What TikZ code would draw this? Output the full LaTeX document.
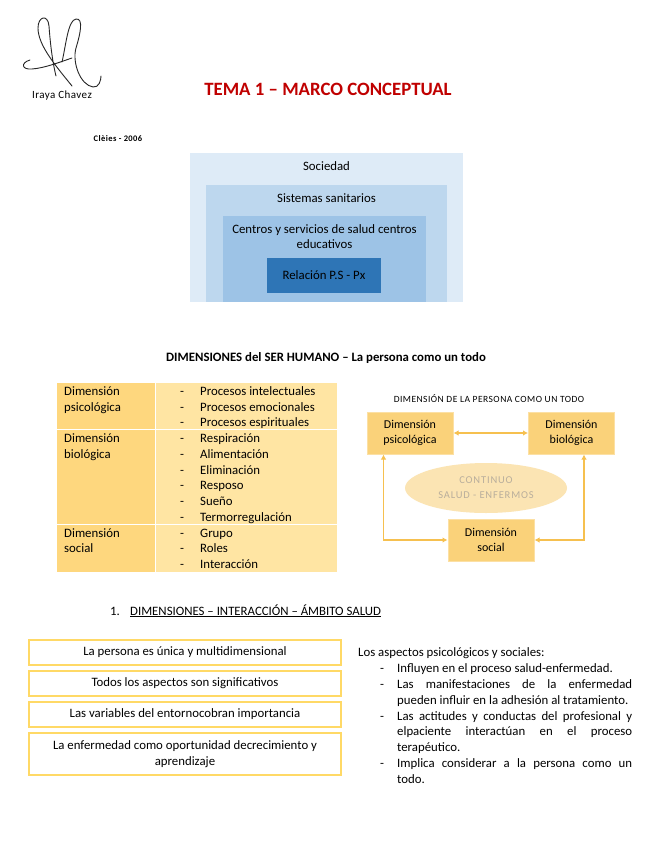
\documentclass[tikz,border=0pt]{standalone}
\usepackage{fontspec}
\setmainfont{Carlito}
\usetikzlibrary{shapes.geometric,arrows.meta}
\definecolor{titred}{HTML}{C00000}
\definecolor{bA}{HTML}{DEEBF7}
\definecolor{bB}{HTML}{BDD7EE}
\definecolor{bC}{HTML}{9DC3E6}
\definecolor{bD}{HTML}{2E75B6}
\definecolor{tL}{HTML}{FED77E}
\definecolor{tR}{HTML}{FFE5A3}
\definecolor{dBox}{HTML}{FAD27A}
\definecolor{dBor}{HTML}{FCE0A4}
\definecolor{dEll}{HTML}{FBE4B3}
\definecolor{dTxt}{HTML}{B9AE9C}
\definecolor{dArr}{HTML}{F6C04F}
\definecolor{lBor}{HTML}{FFD966}
\newcommand\jline[1]{\makebox[235pt][s]{\spaceskip=0.12em plus 1fil\relax #1}}
\tikzset{
  body/.style={font=\fontsize{12.8}{15.6}\selectfont, inner sep=0pt},
  tcell/.style={body, anchor=base west},
  dimbox/.style={draw=dBor, line width=1pt, fill=dBox, minimum width=86pt, minimum height=42pt, align=center, font=\fontsize{12}{15}\selectfont, inner sep=1pt},
  arr/.style={dArr, line width=1.2pt, {Latex[length=5pt,width=5.5pt]}-{Latex[length=5pt,width=5.5pt]}},
  lbox/.style={draw=lBor, line width=1.3pt, fill=white, minimum width=312pt, align=center, body},
  rline/.style={body, anchor=base west},
}
\begin{document}
\begin{tikzpicture}[x=1pt,y=-1pt]
\useasboundingbox[fill=white] (0,0) rectangle (655,848);

% signature
\draw[line width=0.9pt, black!85, line cap=round, line join=round]
  (72,86) .. controls (55,65) and (38,45) .. (38,28)
          .. controls (38,16) and (48,14) .. (49,26)
          .. controls (50,40) and (52,60) .. (56,76);
\draw[line width=0.9pt, black!85, line cap=round]
  (30,60) .. controls (20,63) and (22,70) .. (32,69)
          .. controls (45,68) and (60,62) .. (72,58);
\draw[line width=0.9pt, black!85, line cap=round]
  (62,62) .. controls (66,45) and (68,20) .. (76,19)
          .. controls (84,18) and (80,35) .. (76,48)
          .. controls (72,62) and (80,85) .. (93,87)
          .. controls (99,88) and (101,80) .. (101,76);
\node[font=\fontsize{11}{13}\selectfont\addfontfeatures{LetterSpace=4}, inner sep=0pt] (sig) at (62,96) {Iraya Chavez};

\node[font=\bfseries\fontsize{18.8}{22}\selectfont, text=titred, inner sep=0pt] (title) at (328,89) {TEMA 1 – MARCO CONCEPTUAL};
\node[font=\bfseries\fontsize{8.5}{10}\selectfont\addfontfeatures{LetterSpace=5}, inner sep=0pt] (cl) at (118,139) {Clèies - 2006};

% nested boxes
\fill[bA] (190,153) rectangle (463,302);
\fill[bB] (206,185) rectangle (447,302);
\fill[bC] (223,216) rectangle (426,302);
\node[body, fill=bD, minimum width=114pt, minimum height=35pt] (rel) at (324,275.5) {Relación P.S - Px};
\node[body] (soc) at (326.5,166) {Sociedad};
\node[body] (sis) at (326.5,198) {Sistemas sanitarios};
\node[body, align=center] (cen) at (324.5,236.5) {Centros y servicios de salud centros\\educativos};

\node[body, font=\bfseries\fontsize{12.8}{15.6}\selectfont] (dimh) at (326,358) {DIMENSIONES del SER HUMANO – La persona como un todo};

% table
\fill[tL] (57,383) rectangle (155,572);
\fill[tR] (155,383) rectangle (337,572);
\draw[white, line width=1pt] (57,429) -- (337,429);
\draw[white, line width=1pt] (57,524) -- (337,524);
\draw[white, line width=0.8pt] (155,383) -- (155,572);
\node[tcell] (l1a) at (64,395) {Dimensión};
\node[tcell] (l1b) at (64,411) {psicológica};
\node[tcell] (l2a) at (64,442) {Dimensión};
\node[tcell] (l2b) at (64,458) {biológica};
\node[tcell] (l3a) at (64,537) {Dimensión};
\node[tcell] (l3b) at (64,552) {social};
\foreach \y/\t [count=\i] in {395/Procesos intelectuales,411/Procesos emocionales,426/Procesos espirituales,442/Respiración,458/Alimentación,474/Eliminación,489/Resposo,505/Sueño,521/Termorregulación,537/Grupo,552/Roles,568/Interacción}{
  \node[tcell] (d\i) at (180,\y) {-};
  \node[tcell] (it\i) at (200,\y) {\t};
}

% person diagram
\node[font=\fontsize{9.5}{11}\selectfont\addfontfeatures{LetterSpace=5}, inner sep=0pt] (dpt) at (489,399) {DIMENSIÓN DE LA PERSONA COMO UN TODO};
\node[ellipse, fill=dEll, minimum width=162pt, minimum height=50pt, align=center, text=dTxt, font=\fontsize{10.5}{15}\selectfont\addfontfeatures{LetterSpace=8}] (ell) at (486,488) {CONTINUO\\SALUD - ENFERMOS};
\node[dimbox] (psi) at (410,433) {Dimensión\\psicológica};
\node[dimbox] (bio) at (571.5,433) {Dimensión\\biológica};
\node[dimbox] (sod) at (491,540) {Dimensión\\social};
\draw[arr] (psi.east) -- (bio.west);
\draw[arr] ([xshift=17pt]psi.south west) |- (sod.west);
\draw[arr] ([xshift=-31pt]bio.south east) |- (sod.east);

% section heading
\node[body, anchor=base west] (n1) at (110,615) {1.};
\node[body, anchor=base west] (sh) at (130,615) {\underline{DIMENSIONES – INTERACCIÓN – ÁMBITO SALUD}};

% left boxes
\node[lbox, minimum height=25pt] (b1) at (185,652.5) {La persona es única y multidimensional};
\node[lbox, minimum height=25pt] (b2) at (185,683.5) {Todos los aspectos son significativos};
\node[lbox, minimum height=25pt] (b3) at (185,714.5) {Las variables del entornocobran importancia};
\node[lbox, minimum height=42pt] (b4) at (185,754) {La enfermedad como oportunidad decrecimiento y\\aprendizaje};

% right text
\node[rline] (r0) at (358,656) {Los aspectos psicológicos y sociales:};
\foreach \y in {672,688,720,767}{ \node[rline] at (380,\y) {-}; }
\node[rline] (r1) at (397,672) {Influyen en el proceso salud-enfermedad.};
\node[rline] (r2) at (397,688) {\jline{Las manifestaciones de la enfermedad}};
\node[rline] (r3) at (397,704) {pueden influir en la adhesión al tratamiento.};
\node[rline] (r4) at (397,720) {\jline{Las actitudes y conductas del profesional y}};
\node[rline] (r5) at (397,735) {\jline{elpaciente interactúan en el proceso}};
\node[rline] (r6) at (397,751) {terapéutico.};
\node[rline] (r7) at (397,767) {\jline{Implica considerar a la persona como un}};
\node[rline] (r8) at (397,783) {todo.};
\end{tikzpicture}
\end{document}
